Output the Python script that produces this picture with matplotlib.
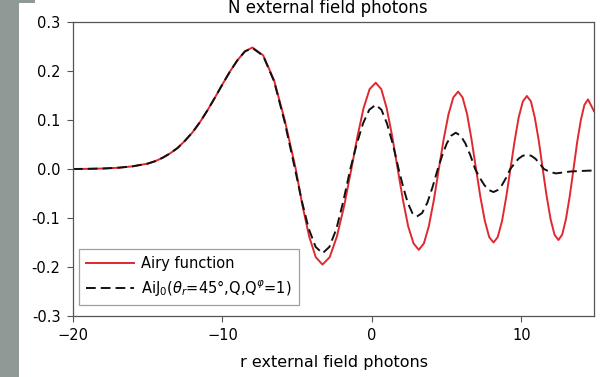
import matplotlib
matplotlib.use("Agg")
import matplotlib.pyplot as plt
from matplotlib.patches import Rectangle

plt.rcParams['font.family'] = ['DejaVu Sans']

# Airy function (red)
airy_x = [-20, -19, -18, -17, -16, -15, -14.5, -14, -13.5, -13, -12.5, -12, -11.5, -11,
          -10.5, -10, -9.5, -9, -8.5, -8.0,
          -7.28, -6.55, -5.83, -5.1,
          -4.65, -4.2, -3.76, -3.31,
          -2.83, -2.35, -1.86, -1.38,
          -0.97, -0.565, -0.16, 0.25,
          0.62, 0.985, 1.35, 1.72,
          2.07, 2.42, 2.78, 3.13,
          3.47, 3.8, 4.14, 4.47,
          4.79, 5.12, 5.44, 5.76,
          6.06, 6.36, 6.66, 6.96,
          7.25, 7.55, 7.84, 8.13,
          8.41, 8.7, 8.98, 9.26,
          9.54, 9.81, 10.09, 10.36,
          10.63, 10.89, 11.16, 11.42,
          11.68, 11.95, 12.21, 12.47,
          12.72, 12.97, 13.23, 13.48,
          13.72, 13.97, 14.21, 14.45, 14.85]
airy_y = [0.0, 0.0003, 0.001, 0.0025, 0.0055, 0.011, 0.016, 0.023, 0.032, 0.043, 0.058, 0.075, 0.096, 0.120,
          0.146, 0.173, 0.199, 0.222, 0.240, 0.248,
          0.232, 0.181, 0.099, 0.0,
          -0.075, -0.138, -0.180, -0.195,
          -0.180, -0.138, -0.075, 0.0,
          0.067, 0.124, 0.163, 0.176,
          0.163, 0.124, 0.067, 0.0,
          -0.063, -0.117, -0.152, -0.165,
          -0.152, -0.117, -0.063, 0.0,
          0.060, 0.112, 0.146, 0.158,
          0.146, 0.112, 0.060, 0.0,
          -0.057, -0.106, -0.139, -0.150,
          -0.139, -0.106, -0.057, 0.0,
          0.057, 0.105, 0.138, 0.149,
          0.138, 0.105, 0.057, 0.0,
          -0.055, -0.103, -0.134, -0.145,
          -0.134, -0.103, -0.055, 0.0,
          0.054, 0.100, 0.131, 0.142, 0.118]

# AiJ0 curve (black dashed)
aij_x = [-20, -19, -18, -17, -16, -15, -14.5, -14, -13.5, -13, -12.5, -12, -11.5, -11,
         -10.5, -10, -9.5, -9, -8.5, -8.0,
         -7.28, -6.55, -5.85, -5.15,
         -4.69, -4.23, -3.77, -3.31,
         -2.85, -2.38, -1.92, -1.45,
         -1.03, -0.6, -0.18, 0.25,
         0.63, 1.0, 1.4, 1.78,
         2.09, 2.39, 2.7, 3.0,
         3.35, 3.7, 4.05, 4.4,
         4.7, 5.0, 5.3, 5.6,
         5.93, 6.25, 6.58, 6.9,
         7.21, 7.52, 7.82, 8.13,
         8.41, 8.69, 8.97, 9.25,
         9.53, 9.8, 10.08, 10.36,
         10.65, 10.93, 11.22, 11.5,
         11.9, 12.3, 12.8, 13.3, 14.0, 14.85]
aij_y = [0.0, 0.0003, 0.001, 0.0025, 0.0055, 0.011, 0.016, 0.023, 0.032, 0.043, 0.058, 0.075, 0.096, 0.120,
         0.146, 0.173, 0.199, 0.222, 0.240, 0.247,
         0.231, 0.179, 0.097, 0.0,
         -0.066, -0.122, -0.159, -0.172,
         -0.159, -0.122, -0.066, 0.0,
         0.050, 0.093, 0.121, 0.131,
         0.121, 0.093, 0.050, 0.0,
         -0.037, -0.069, -0.090, -0.097,
         -0.090, -0.069, -0.037, 0.0,
         0.028, 0.052, 0.068, 0.074,
         0.068, 0.052, 0.028, 0.0,
         -0.018, -0.033, -0.043, -0.047,
         -0.043, -0.033, -0.018, 0.0,
         0.011, 0.021, 0.027, 0.029,
         0.027, 0.021, 0.011, 0.0,
         -0.006, -0.009, -0.007, -0.005, -0.004, -0.003]

x_ticks = [-20, -10, 0, 10]
y_ticks = [-0.3, -0.2, -0.1, 0.0, 0.1, 0.2, 0.3]

fig = plt.figure(figsize=(6, 3.77), dpi=100)
W, H = 600, 377

# grey slide background on the left edge
fig.patches.append(Rectangle((0, 0), 19 / W, 1, transform=fig.transFigure,
                             facecolor='#8f9a97', edgecolor='none', zorder=0))
fig.patches.append(Rectangle((0, 1 - 3 / H), 35 / W, 3 / H, transform=fig.transFigure,
                             facecolor='#8f9a97', edgecolor='none', zorder=0))

ax = fig.add_axes([73 / W, 1 - 316 / H, 521 / W, 294 / H])

ax.plot(airy_x, airy_y, color='#e0282f', lw=1.4, solid_joinstyle='round',
        label='Airy function')
ax.plot(aij_x, aij_y, color='#111111', lw=1.4, dashes=(5, 2.6),
        dash_joinstyle='round', label=r'AiJ$_0$($\theta_r$=45°,Q,Q$^{\varphi}$=1)')

ax.set_xlim(-20, 14.85)
ax.set_ylim(-0.3, 0.3)
ax.set_xticks(x_ticks)
ax.set_yticks(y_ticks)
ax.set_yticklabels([f'{v:.1f}' for v in y_ticks])
ax.tick_params(direction='out', length=4, width=0.8, color='#555555',
               labelsize=10.5, pad=5)

for s in ax.spines.values():
    s.set_color('#555555')
    s.set_linewidth(0.9)

ax.set_xlabel('r external field photons', fontsize=11.5, labelpad=8)
fig.text(0.546, 1 - 13 / H, 'N external field photons', ha='center', va='baseline',
         fontsize=12)

leg = ax.legend(loc='lower left', bbox_to_anchor=(0.0115, 0.037), borderaxespad=0,
                fontsize=10.5, frameon=True, fancybox=False, handlelength=3.3,
                handletextpad=0.45, borderpad=0.5, labelspacing=0.45)
leg.get_frame().set_edgecolor('#888888')
leg.get_frame().set_linewidth(0.9)

fig.savefig('out.png', dpi=100)
